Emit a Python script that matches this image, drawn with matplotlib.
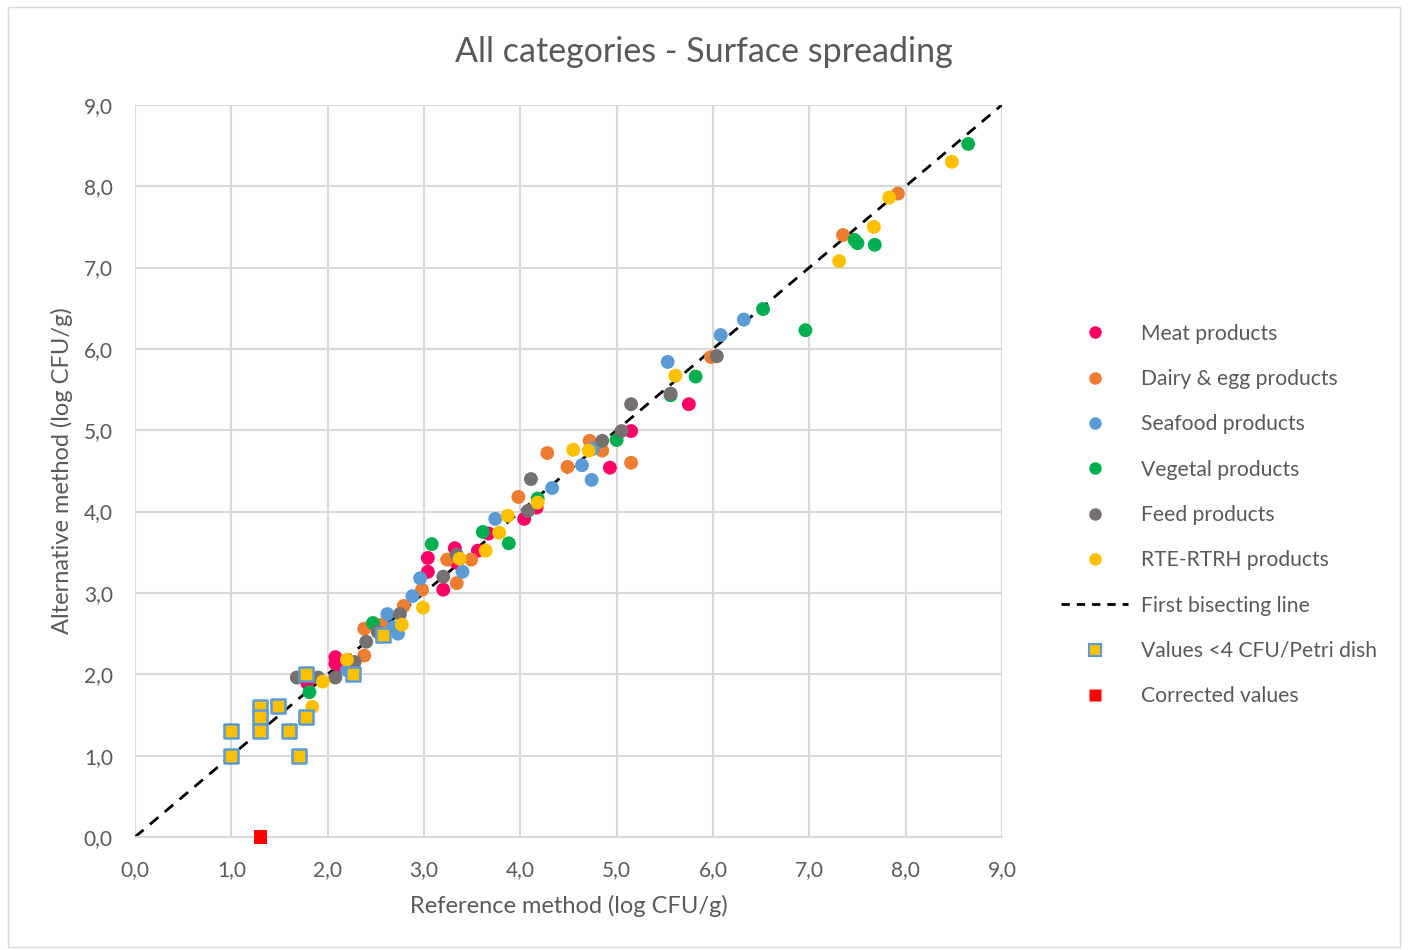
import matplotlib.pyplot as plt
from matplotlib.lines import Line2D

plt.rcParams['font.family'] = ['Lato', 'DejaVu Sans']

# data (log CFU/g): reference x, alternative y
meat_x = [2.08, 2.08, 2.13, 1.79, 3.04, 3.04, 3.20, 3.32, 3.34, 3.56, 3.67, 4.04, 4.17, 4.93, 5.15, 5.75]
meat_y = [2.21, 2.13, 2.08, 1.89, 3.43, 3.26, 3.04, 3.55, 3.37, 3.52, 3.73, 3.91, 4.05, 4.54, 4.99, 5.32]

dairy_x = [2.38, 2.38, 2.56, 2.79, 2.98, 3.24, 3.34, 3.49, 3.98, 4.28, 4.49, 4.72, 4.85, 5.15, 5.98, 7.35, 7.92]
dairy_y = [2.56, 2.23, 2.61, 2.84, 3.04, 3.41, 3.12, 3.41, 4.18, 4.72, 4.55, 4.87, 4.75, 4.60, 5.90, 7.40, 7.91]

seafood_x = [2.20, 2.62, 2.68, 2.73, 2.88, 2.96, 3.40, 3.74, 4.33, 4.64, 4.74, 4.75, 5.53, 6.08, 6.32]
seafood_y = [2.05, 2.74, 2.58, 2.50, 2.96, 3.18, 3.26, 3.91, 4.29, 4.57, 4.39, 4.77, 5.84, 6.17, 6.36]

veg_x = [1.81, 2.47, 3.08, 3.61, 3.88, 4.18, 5.00, 5.56, 5.82, 6.52, 6.96, 7.47, 7.50, 7.68, 8.65]
veg_y = [1.78, 2.63, 3.60, 3.75, 3.61, 4.16, 4.88, 5.43, 5.66, 6.49, 6.23, 7.34, 7.30, 7.28, 8.52]

feed_x = [1.68, 1.90, 2.08, 2.28, 2.40, 2.52, 2.75, 3.20, 3.34, 4.08, 4.11, 4.85, 5.05, 5.15, 5.56, 6.04]
feed_y = [1.96, 1.96, 1.96, 2.15, 2.40, 2.52, 2.74, 3.20, 3.47, 4.01, 4.40, 4.87, 4.99, 5.32, 5.45, 5.91]

rte_x = [1.84, 1.95, 2.20, 2.77, 2.99, 3.37, 3.64, 3.78, 3.87, 4.18, 4.55, 4.71, 5.61, 7.31, 7.67, 7.83, 8.48]
rte_y = [1.60, 1.91, 2.18, 2.61, 2.82, 3.42, 3.52, 3.74, 3.95, 4.11, 4.76, 4.75, 5.67, 7.08, 7.50, 7.86, 8.30]

low_x = [1.00, 1.00, 1.30, 1.30, 1.30, 1.48, 1.60, 1.70, 1.78, 1.78, 2.26, 2.57]
low_y = [1.30, 1.00, 1.60, 1.48, 1.30, 1.61, 1.30, 1.00, 1.48, 2.00, 2.00, 2.48]

corr_x = [1.30]
corr_y = [0.0]

series = [
    ("Meat products", meat_x, meat_y, "#FF0066"),
    ("Dairy & egg products", dairy_x, dairy_y, "#ED7D31"),
    ("Seafood products", seafood_x, seafood_y, "#5B9BD5"),
    ("Vegetal products", veg_x, veg_y, "#00B050"),
    ("Feed products", feed_x, feed_y, "#767171"),
    ("RTE-RTRH products", rte_x, rte_y, "#FFC000"),
]

text_col = "#595959"
fig = plt.figure(figsize=(14.08, 9.5), dpi=100)
ax = fig.add_axes([0.0959, 0.119, 0.6157, 0.7706])

ax.plot([0, 9], [0, 9], color="black", linestyle=(0, (4, 3)), linewidth=2, zorder=2)
for name, xs, ys, c in series:
    ax.scatter(xs, ys, s=100, color=c, edgecolors="none", zorder=3)
ax.scatter(low_x, low_y, s=90, marker="s", color="#FFC000", edgecolors="#5B9BD5", linewidths=1.8, zorder=4)
ax.scatter(corr_x, corr_y, s=90, marker="s", color="#FF0000", edgecolors="none", zorder=5, clip_on=False)

ax.set_xlim(0, 9)
ax.set_ylim(0, 9)
ticks = list(range(10))
ax.set_xticks(ticks)
ax.set_yticks(ticks)
ax.set_xticklabels([f"{t},0" for t in ticks])
ax.set_yticklabels([f"{t},0" for t in ticks])
ax.tick_params(length=0, labelsize=15, colors=text_col)
ax.tick_params(axis="x", pad=17)
ax.tick_params(axis="y", pad=16)
ax.grid(True, color="#D9D9D9", linewidth=1.5)
ax.set_axisbelow(True)
for s in ax.spines.values():
    s.set_visible(False)
ax.spines["bottom"].set_visible(True)
ax.spines["bottom"].set_color("#D9D9D9")
ax.spines["bottom"].set_linewidth(1.5)

ax.set_xlabel("Reference method (log CFU/g)", fontsize=17, color=text_col, labelpad=10)
ax.set_ylabel("Alternative method (log CFU/g)", fontsize=17, color=text_col, labelpad=8)
fig.suptitle("All categories - Surface spreading", fontsize=24.5, color=text_col, y=0.962)

handles = [Line2D([], [], linestyle="none", marker="o", markersize=9, markerfacecolor=c,
                  markeredgecolor="none") for _, _, _, c in series]
labels = [s[0] for s in series]
handles.append(Line2D([], [], color="black", linestyle=(0, (3, 2.5)), linewidth=2))
labels.append("First bisecting line")
handles.append(Line2D([], [], linestyle="none", marker="s", markersize=8, markerfacecolor="#FFC000",
                      markeredgecolor="#5B9BD5", markeredgewidth=1.5))
labels.append("Values <4 CFU/Petri dish")
handles.append(Line2D([], [], linestyle="none", marker="s", markersize=8, markerfacecolor="#FF0000",
                      markeredgecolor="none"))
labels.append("Corrected values")

leg = fig.legend(handles, labels, loc="center left", bbox_to_anchor=(0.74, 0.458), frameon=False,
                 fontsize=15.2, labelspacing=1.2, handlelength=3.2, handletextpad=0.6)
for t in leg.get_texts():
    t.set_color(text_col)

# outer chart border
fig.patches.append(plt.Rectangle((0.006, 0.003), 0.988, 0.99, transform=fig.transFigure,
                                 fill=False, edgecolor="#D9D9D9", linewidth=1))

fig.savefig("out.png", dpi=100)
